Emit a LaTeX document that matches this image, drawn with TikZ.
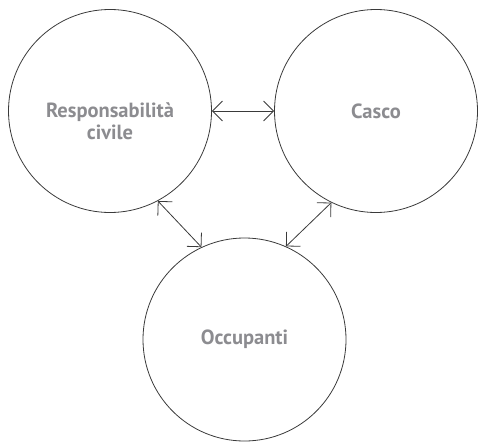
\documentclass[tikz,border=0pt]{standalone}
\usepackage{fontspec}
\setmainfont{PT Sans}
\usepackage{xcolor}
\usetikzlibrary{arrows.meta}
\definecolor{labelgray}{HTML}{8C8C90}
\definecolor{linegray}{HTML}{3A3A3A}
\tikzset{cover/.style={circle,draw=linegray,line width=.8pt,minimum size=203pt,inner sep=0pt},
 title/.style={align=center,text=labelgray,inner sep=0pt,font=\fontsize{20.5}{22}\selectfont\bfseries},
 link/.style={draw=linegray,line width=.8pt,{Straight Barb[length=10pt,width=20pt]}-{Straight Barb[length=10pt,width=20pt]}},
 }

\begin{document}
\begin{tikzpicture}[x=1pt,y=-1pt]
        \useasboundingbox (0,0) rectangle (478,441);

        \node[cover] (rc) at (110,111) {};
        \node[cover] (casco) at (376,111) {};
        \node[cover] (occ) at (244.5,339.5) {};

        \node[title] (rctitle) at (110,121.5) {Responsabilità\\civile};
        \node[title] (cascotitle) at (casco) {Casco};
        \node[title] (occtitle) at (occ) {Occupanti};

        \draw[link] (rc.east) -- (casco.west);
        \draw[link] (rc.-62) -- (occ.115);
        \draw[link] (casco.-116) -- (occ.66);
    \end{tikzpicture}
\end{document}
